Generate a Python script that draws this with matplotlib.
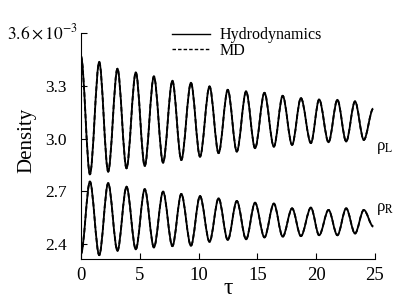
import matplotlib
matplotlib.use('Agg')
import matplotlib.pyplot as plt
from matplotlib.path import Path
from matplotlib.patches import PathPatch
from matplotlib.lines import Line2D

plt.rcParams['font.family'] = 'Liberation Serif'
plt.rcParams['mathtext.fontset'] = 'stix'

# tempos dos extremos (pico / vale)
tau = [0, 0.76, 1.55, 2.31, 3.1, 3.87, 4.66, 5.42, 6.2, 6.98, 7.77, 8.53,
       9.35, 10.12, 10.93, 11.7, 12.48, 13.25, 14.04, 14.8, 15.6, 16.4,
       17.15, 17.95, 18.7, 19.55, 20.25, 21.05, 21.8, 22.55, 23.3, 24.05, 24.85]

# densidade em unidades de 1e-3
rho_l = [3.467, 2.797, 3.435, 2.812, 3.397, 2.831, 3.376, 2.844, 3.353, 2.863,
         3.328, 2.878, 3.317, 2.897, 3.296, 2.917, 3.277, 2.926, 3.268, 2.945,
         3.260, 2.954, 3.243, 2.964, 3.230, 2.974, 3.222, 2.979, 3.220, 2.983,
         3.211, 2.992, 3.17]
rho_r = [2.345, 2.755, 2.337, 2.746, 2.362, 2.726, 2.370, 2.712, 2.381, 2.698,
         2.388, 2.685, 2.390, 2.673, 2.413, 2.660, 2.423, 2.645, 2.427, 2.635,
         2.438, 2.630, 2.442, 2.603, 2.445, 2.607, 2.450, 2.594, 2.450, 2.603,
         2.460, 2.594, 2.50]

# MD praticamente coincide com a hidrodinamica
md_rho_l = list(rho_l)
md_rho_r = list(rho_r)

yticks = [2.4, 2.7, 3.0, 3.3, 3.6]
ytick_labels = ['2.4', '2.7', '3.0', '3.3', '']
xticks = [0, 5, 10, 15, 20, 25]


def curva_suave(t, y):
    # bezier com tangente horizontal em cada extremo
    verts = [(t[0], y[0])]
    codes = [Path.MOVETO]
    for i in range(len(t) - 1):
        dt = t[i + 1] - t[i]
        verts += [(t[i] + dt / 3, y[i]), (t[i + 1] - dt / 3, y[i + 1]), (t[i + 1], y[i + 1])]
        codes += [Path.CURVE4] * 3
    return Path(verts, codes)


fig = plt.figure(figsize=(3.94, 2.99), dpi=100)
ax = fig.add_axes([81 / 394, 40 / 299, 294 / 394, 226 / 299])

for serie in (rho_l, rho_r):
    ax.add_patch(PathPatch(curva_suave(tau, serie), fill=False, ec='black', lw=1.3))
for serie in (md_rho_l, md_rho_r):
    ax.add_patch(PathPatch(curva_suave(tau, serie), fill=False, ec='black', lw=1.3,
                           ls=(0, (2.5, 1.5))))

ax.set_xlim(0, 25)
ax.set_ylim(2.315, 3.6)
ax.set_xticks(xticks)
ax.set_yticks(yticks)
ax.set_yticklabels(ytick_labels)
ax.tick_params(direction='in', length=4, width=0.8)
ax.tick_params(axis='y', labelsize=12.5, pad=10)
ax.tick_params(axis='x', labelsize=13.5, pad=6)
ax.spines['top'].set_visible(False)
ax.spines['right'].set_visible(False)

# rotulo do topo com o fator de escala
ax.text(-0.01, 3.6, r'$3.6\times10^{-3}$', transform=ax.get_yaxis_transform(),
        ha='right', va='center', fontsize=12.5)

ax.set_ylabel('Density', fontsize=15)
ax.yaxis.set_label_coords(-0.153, 0.527)
ax.set_xlabel('τ', fontsize=17)
ax.xaxis.set_label_coords(0.5, -0.082)

ax.text(25.1, 2.947, 'ρ$_\\mathrm{L}$', fontsize=12, va='center', ha='left', clip_on=False)
ax.text(25.1, 2.60, 'ρ$_\\mathrm{R}$', fontsize=12, va='center', ha='left', clip_on=False)

handles = [Line2D([], [], color='black', lw=1.0),
           Line2D([], [], color='black', lw=1.0, ls=(0, (2.5, 1.5)))]
ax.legend(handles, ['Hydrodynamics', 'MD'], loc='center left',
          bbox_to_anchor=(172 / 394, 1 - 43 / 299), bbox_transform=fig.transFigure,
          frameon=False, fontsize=11.5, handlelength=2.4, handletextpad=0.6,
          labelspacing=-0.05, borderpad=0, borderaxespad=0)

fig.savefig('out.png', dpi=100)
